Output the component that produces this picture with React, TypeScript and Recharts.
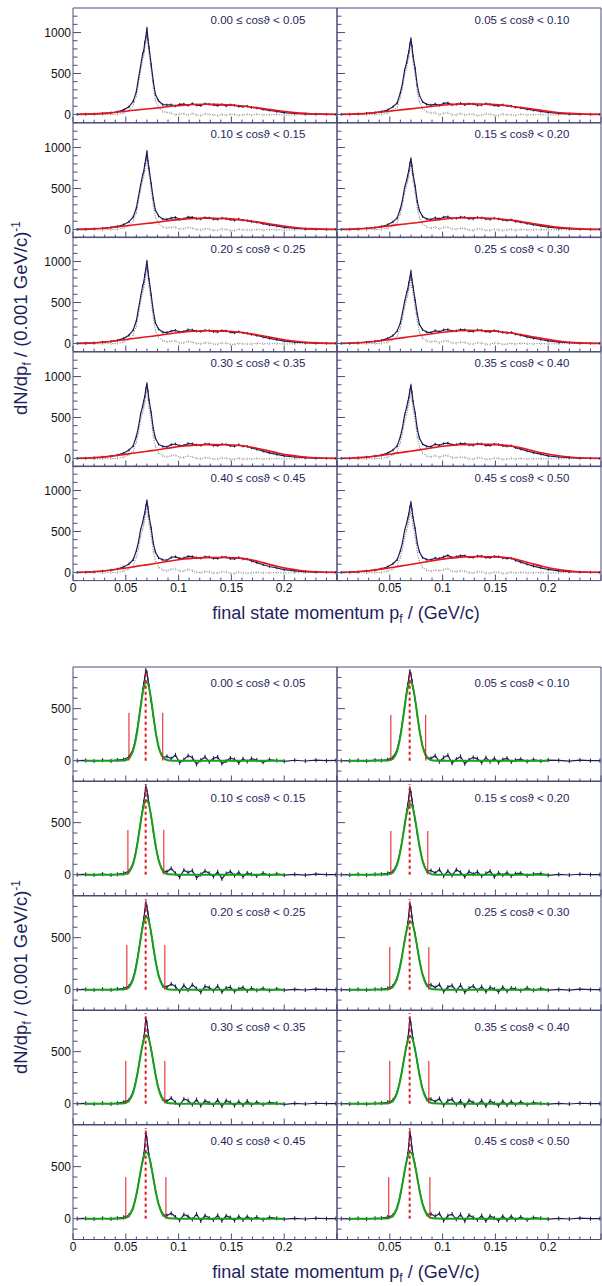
import React from "react";
import {
  ComposedChart,
  Line,
  XAxis,
  YAxis,
  ErrorBar,
  ReferenceArea,
  ReferenceLine,
} from "recharts";

const FONT = "'Liberation Sans', Arial, Helvetica, sans-serif";
const NAVY = "#1f1f5e";
const FRAME = "#4a4a78";
const DATA_C = "#1c1c54";
const GRAY_C = "#7a7a7a";
const GRAY_ERR_C = "#b4b4b4";
const RED_C = "#e8141a";
const GREEN_C = "#18a018";

const COS_LABELS = [
  "0.00 ≤ cosϑ < 0.05",
  "0.05 ≤ cosϑ < 0.10",
  "0.10 ≤ cosϑ < 0.15",
  "0.15 ≤ cosϑ < 0.20",
  "0.20 ≤ cosϑ < 0.25",
  "0.25 ≤ cosϑ < 0.30",
  "0.30 ≤ cosϑ < 0.35",
  "0.35 ≤ cosϑ < 0.40",
  "0.40 ≤ cosϑ < 0.45",
  "0.45 ≤ cosϑ < 0.50",
];

// momentum grid of the histogram points (GeV/c)
const GRID_X = [
  0.004, 0.012, 0.02, 0.028, 0.036, 0.042, 0.048, 0.053, 0.057, 0.06,
  0.062, 0.064, 0.066, 0.067, 0.068, 0.069, 0.07, 0.071, 0.072, 0.074,
  0.076, 0.078, 0.081, 0.085, 0.089, 0.093, 0.097, 0.101, 0.105, 0.109,
  0.113, 0.117, 0.121, 0.125, 0.129, 0.133, 0.137, 0.141, 0.145, 0.149,
  0.153, 0.157, 0.161, 0.165, 0.169, 0.174, 0.18, 0.186, 0.193, 0.2,
  0.21, 0.22, 0.23, 0.24, 0.249,
];
const BKG_X = [
  0.005, 0.015, 0.025, 0.035, 0.045, 0.055, 0.065, 0.075, 0.085, 0.095,
  0.105, 0.115, 0.125, 0.135, 0.145, 0.155, 0.165, 0.175, 0.185, 0.195,
  0.205, 0.215, 0.225, 0.235, 0.248,
];
const FIT_X = [
  0.011, 0.03, 0.046, 0.051, 0.054, 0.057, 0.059, 0.061, 0.063, 0.065, 0.067,
  0.069, 0.071, 0.073, 0.075, 0.077, 0.079, 0.081, 0.084, 0.087, 0.091, 0.1,
  0.15, 0.2,
];

const X_TICKS = [
  0, 0.01, 0.02, 0.03, 0.04, 0.05, 0.06, 0.07, 0.08, 0.09, 0.1, 0.11, 0.12,
  0.13, 0.14, 0.15, 0.16, 0.17, 0.18, 0.19, 0.2, 0.21, 0.22, 0.23, 0.24, 0.25,
];
const X_MAJOR = [0, 0.05, 0.1, 0.15, 0.2, 0.25];
const X_LABELS = [0, 0.05, 0.1, 0.15, 0.2];
const TOP_Y_TICKS = [-100, 0, 100, 200, 300, 400, 500, 600, 700, 800, 900, 1000, 1100, 1200];
const TOP_Y_LABELS = [0, 500, 1000];
const BOT_Y_TICKS = [-100, 0, 100, 200, 300, 400, 500, 600, 700, 800];
const BOT_Y_LABELS = [0, 500];
const TOP_DOMAIN: [number, number] = [-100, 1300];
const BOT_DOMAIN: [number, number] = [-200, 900];

// typical half-length of the statistical error bars
const TOP_ERR = 16;
const BOT_ERR = 20;

// upper figure: measured spectrum (navy)
const TOP_DATA = [
  [0, 3, 6, 12, 20, 32, 56, 92, 160, 279, 436, 589, 741, 777, 883, 945, 1056, 917, 818, 611, 408, 246, 166, 120, 116, 118, 104, 122, 126, 110, 132, 114, 108, 130, 124, 117, 108, 121, 104, 117, 112, 99, 94, 100, 84, 78, 62, 50, 36, 22, 12, 6, 3, 2, 1],
  [0, 2, 7, 13, 22, 34, 54, 92, 140, 265, 376, 541, 639, 709, 766, 860, 927, 834, 713, 562, 356, 235, 153, 123, 114, 126, 112, 134, 140, 118, 122, 136, 118, 132, 128, 112, 115, 130, 122, 110, 104, 116, 106, 100, 88, 80, 64, 52, 38, 24, 13, 7, 3, 2, 1],
  [0, 3, 8, 14, 24, 36, 58, 93, 153, 261, 400, 540, 670, 709, 796, 862, 953, 834, 743, 561, 377, 236, 165, 125, 122, 138, 146, 124, 130, 150, 146, 132, 128, 144, 140, 126, 124, 138, 132, 120, 112, 126, 112, 108, 96, 88, 70, 56, 42, 26, 14, 7, 4, 2, 1],
  [0, 2, 7, 14, 23, 35, 57, 92, 139, 252, 360, 509, 604, 663, 718, 804, 865, 778, 672, 529, 343, 231, 157, 128, 121, 142, 128, 150, 154, 134, 136, 150, 148, 132, 130, 146, 142, 128, 124, 136, 128, 116, 110, 116, 98, 90, 72, 58, 44, 28, 15, 8, 4, 2, 1],
  [0, 3, 8, 15, 25, 38, 62, 100, 163, 277, 422, 570, 704, 748, 837, 909, 1005, 882, 783, 595, 399, 253, 176, 137, 132, 150, 160, 138, 146, 166, 164, 150, 146, 160, 158, 144, 140, 156, 152, 138, 130, 142, 130, 124, 110, 98, 78, 62, 46, 28, 15, 8, 4, 2, 1],
  [0, 2, 8, 15, 26, 38, 61, 95, 151, 250, 376, 506, 622, 662, 739, 801, 885, 778, 693, 529, 361, 233, 168, 138, 133, 156, 142, 166, 170, 150, 154, 168, 166, 150, 148, 164, 160, 146, 142, 156, 148, 134, 128, 134, 114, 102, 80, 64, 48, 30, 16, 8, 4, 2, 1],
  [0, 3, 8, 16, 27, 40, 64, 102, 152, 270, 384, 540, 641, 702, 759, 850, 915, 824, 712, 564, 368, 250, 174, 146, 140, 168, 176, 154, 160, 182, 178, 164, 160, 176, 174, 158, 156, 172, 170, 154, 150, 166, 150, 146, 128, 112, 88, 68, 50, 32, 17, 9, 4, 2, 1],
  [0, 2, 8, 16, 27, 40, 65, 102, 152, 266, 378, 530, 627, 688, 744, 832, 896, 807, 698, 555, 363, 249, 175, 147, 143, 174, 160, 182, 186, 166, 168, 182, 180, 164, 162, 178, 176, 160, 158, 174, 170, 154, 150, 154, 132, 114, 90, 70, 52, 32, 17, 9, 4, 2, 1],
  [0, 3, 9, 17, 28, 42, 67, 104, 154, 266, 372, 520, 615, 675, 730, 813, 876, 790, 685, 545, 360, 250, 178, 153, 149, 182, 192, 168, 176, 196, 192, 178, 174, 190, 188, 172, 170, 186, 186, 168, 166, 182, 164, 162, 140, 120, 94, 72, 54, 34, 18, 9, 4, 2, 1],
  [0, 3, 9, 18, 29, 44, 69, 106, 155, 264, 368, 511, 604, 661, 715, 795, 857, 772, 672, 536, 357, 252, 182, 157, 154, 176, 170, 190, 208, 182, 190, 204, 202, 186, 184, 200, 198, 182, 180, 196, 192, 176, 170, 172, 148, 126, 100, 76, 56, 36, 19, 10, 5, 2, 1],
];

// upper figure: background-subtracted points (gray dotted)
const TOP_GRAY = [
  [0, 0, -2, -2, 0, 3, 20, 48, 110, 226, 380, 530, 680, 715, 820, 880, 990, 850, 750, 540, 335, 170, 86, 34, 24, 16, -6, 4, 10, -8, 12, -6, -14, 8, 2, -4, -14, 0, -12, 2, -2, -10, -8, 4, -8, 2, -6, -4, 0, -10, -5, -3, -1, 0, 0],
  [0, -1, -2, -3, 1, 3, 17, 46, 88, 210, 318, 480, 576, 645, 700, 792, 858, 764, 642, 488, 280, 156, 70, 34, 18, 20, -6, 16, 20, -4, -4, 12, -8, 4, 2, -14, -8, 8, 2, -10, -12, 4, -4, -6, -10, 1, -6, -3, -2, -8, -5, -3, -1, 0, 0],
  [0, -1, -3, -4, -1, 2, 18, 44, 98, 202, 338, 475, 602, 640, 726, 790, 880, 760, 668, 482, 296, 152, 76, 30, 20, 26, 28, 4, 8, 24, 16, 0, -6, 8, 6, -10, -10, 4, 0, -12, -16, 2, -6, -6, -8, 0, -6, -2, -2, -8, -4, -3, -1, 0, 0],
  [0, -2, -4, -3, -2, 1, 16, 42, 82, 192, 296, 442, 534, 592, 646, 730, 790, 702, 594, 448, 260, 144, 66, 30, 16, 28, 6, 26, 28, 4, 2, 14, 10, -8, -10, 6, 4, -10, -12, 2, -4, -12, -6, 2, -10, 0, -4, -4, -2, -6, -4, -2, -1, 0, 0],
  [0, -1, -4, -4, -2, 0, 18, 46, 102, 212, 354, 498, 630, 672, 760, 830, 924, 800, 700, 508, 310, 160, 78, 32, 20, 28, 30, 4, 6, 26, 16, 0, -6, 8, 6, -8, -10, 6, 4, -12, -12, 2, -6, -6, -8, 0, -4, -4, -2, -8, -4, -2, -1, 0, 0],
  [0, -2, -3, -4, -1, 0, 16, 40, 88, 184, 306, 432, 546, 584, 660, 720, 802, 694, 608, 440, 270, 138, 68, 30, 18, 30, 8, 30, 32, 6, 4, 16, 12, -6, -8, 8, 4, -10, -10, 4, 2, -12, -6, 2, -8, 0, -4, -4, -2, -6, -4, -2, -1, 0, 0],
  [0, -2, -5, -4, -2, 0, 17, 44, 86, 200, 310, 462, 560, 620, 676, 764, 828, 736, 622, 470, 272, 150, 68, 32, 18, 34, 38, 12, 12, 32, 18, 2, -4, 8, 6, -8, -8, 6, 4, -10, -12, 4, -8, -4, -8, 0, -6, -4, -2, -6, -4, -2, -1, 0, 0],
  [0, -2, -4, -4, -2, 0, 16, 42, 84, 194, 302, 450, 544, 604, 658, 744, 806, 716, 606, 458, 264, 146, 66, 30, 18, 36, 14, 34, 34, 10, 8, 18, 12, -6, -8, 8, 6, -10, -10, 4, 2, -12, -8, 2, -8, 0, -6, -4, -2, -6, -4, -2, -1, 0, 0],
  [0, -2, -5, -5, -3, -1, 16, 41, 82, 190, 292, 436, 528, 586, 640, 720, 782, 694, 588, 444, 256, 142, 64, 30, 18, 40, 42, 16, 16, 36, 22, 4, -2, 10, 8, -8, -8, 6, 6, -12, -12, 4, -8, -6, -8, 0, -6, -4, -2, -6, -4, -2, -1, 0, 0],
  [0, -2, -5, -5, -3, -1, 15, 40, 80, 184, 284, 422, 512, 568, 620, 698, 758, 672, 570, 430, 248, 138, 62, 28, 16, 30, 20, 34, 48, 14, 10, 20, 16, -4, -8, 8, 6, -10, -10, 4, 2, -12, -8, 2, -8, 0, -6, -4, -2, -6, -4, -2, -1, 0, 0],
];

// upper figure: background estimate (red)
const TOP_BKG = [
  [1, 4, 10, 19, 32, 47, 60, 72, 86, 102, 114, 121, 124, 122, 117, 108, 96, 80, 62, 44, 28, 16, 8, 4, 1],
  [1, 4, 10, 20, 33, 48, 62, 75, 90, 106, 118, 126, 130, 128, 123, 114, 100, 84, 65, 46, 30, 17, 9, 4, 1],
  [1, 4, 11, 21, 35, 51, 66, 80, 96, 113, 126, 134, 138, 137, 132, 123, 108, 90, 70, 50, 32, 18, 9, 4, 1],
  [1, 4, 11, 21, 35, 52, 67, 82, 99, 116, 130, 139, 143, 142, 137, 128, 113, 94, 73, 52, 33, 19, 10, 4, 1],
  [1, 4, 12, 23, 38, 56, 72, 88, 106, 124, 139, 149, 154, 153, 148, 139, 123, 103, 80, 57, 36, 20, 10, 4, 1],
  [1, 5, 12, 24, 39, 57, 74, 90, 109, 128, 143, 154, 159, 158, 153, 143, 127, 106, 82, 58, 37, 21, 10, 4, 1],
  [1, 5, 13, 25, 41, 60, 78, 95, 115, 135, 151, 162, 168, 168, 166, 160, 146, 122, 92, 64, 40, 22, 11, 5, 1],
  [1, 5, 13, 26, 42, 61, 80, 98, 118, 139, 155, 166, 172, 173, 171, 165, 151, 126, 95, 66, 41, 23, 11, 5, 1],
  [1, 5, 14, 27, 44, 64, 84, 103, 124, 146, 163, 175, 181, 183, 182, 178, 164, 136, 102, 70, 43, 24, 12, 5, 1],
  [1, 5, 14, 28, 46, 67, 88, 108, 130, 153, 171, 184, 191, 193, 192, 188, 173, 143, 107, 73, 45, 25, 12, 5, 1],
];

// lower figure: background-subtracted spectrum (navy)
const BOT_DATA = [
  [0, 2, -3, 4, -2, 6, 12, 35, 110, 250, 380, 530, 680, 740, 800, 870, 850, 780, 720, 580, 430, 290, 130, 30, 42, 18, 55, -20, 10, 48, 30, -35, 5, 38, -12, 22, 35, -28, -5, 26, 12, -22, 18, -8, 20, 6, -15, 10, 2, -6, 4, -3, 5, 0, 2],
  [0, -2, 3, -4, 5, 2, 10, 30, 105, 245, 375, 520, 670, 730, 790, 860, 830, 770, 700, 590, 440, 300, 140, 35, 20, 48, -10, 30, 52, -25, 15, 40, -30, 8, 32, 18, -20, 30, -10, 22, -18, 10, 24, -12, 6, 14, -8, 10, -4, 6, 3, -4, 6, 1, 0],
  [0, 3, -2, 5, -3, 4, 14, 32, 110, 245, 370, 505, 640, 700, 770, 850, 810, 750, 680, 560, 420, 290, 140, 38, 28, 60, 12, -25, 45, 20, 40, -30, 2, 36, 14, -18, 28, -40, 10, 30, -8, 22, -20, 16, 4, -12, 15, -6, 8, -5, 3, -4, 5, 1, 0],
  [0, -2, 4, -3, 3, 5, 12, 30, 105, 232, 350, 480, 610, 670, 740, 830, 790, 720, 650, 530, 400, 280, 135, 36, 40, 15, 50, -15, 36, -8, 48, 22, -20, 30, 5, 28, -15, 12, 34, -22, 18, -5, 20, -14, 10, 14, -10, 6, 10, -6, 2, -3, 4, 0, 1],
  [0, 2, -3, 4, -2, 6, 12, 32, 108, 240, 360, 492, 625, 685, 760, 840, 800, 735, 665, 545, 410, 286, 138, 37, 25, 55, 30, -18, 42, -4, 48, 10, -26, 32, 20, -10, 36, -22, 16, 24, -18, 8, 22, -12, 14, -6, 12, -8, 8, -4, 3, -3, 5, 0, 1],
  [0, -2, 3, -3, 4, 5, 14, 35, 115, 240, 350, 470, 580, 640, 720, 830, 790, 700, 630, 530, 410, 290, 150, 45, 46, 20, 50, -20, 25, 40, -12, 45, -25, 14, 35, -8, 30, -20, 22, 6, -22, 24, -15, 16, 8, -10, 18, -6, 10, -5, 2, -4, 5, 0, 1],
  [0, 3, -2, 4, -3, 5, 15, 34, 112, 238, 348, 468, 578, 635, 710, 820, 780, 695, 625, 525, 408, 288, 148, 44, 24, 55, 10, -15, 45, 30, -10, 40, -20, 28, 8, -12, 35, -25, 30, 12, -18, 20, -15, 25, -10, 14, -8, 12, 4, -6, 3, -3, 4, 0, 1],
  [0, -2, 3, -4, 4, 6, 14, 33, 110, 235, 344, 462, 570, 625, 700, 820, 770, 688, 618, 518, 402, 284, 145, 43, 44, 18, 50, -18, 30, 42, -8, 26, -24, 32, 10, -10, 30, -22, 26, 4, -20, 24, -14, 20, -8, 16, -10, 10, 2, -5, 2, -3, 4, 0, 1],
  [0, 2, -3, 4, -2, 5, 14, 33, 108, 232, 338, 455, 562, 615, 700, 830, 770, 680, 610, 510, 396, 280, 142, 42, 30, 52, 16, -16, 40, 22, -8, 44, -22, 30, 6, -12, 32, -20, 28, 10, -18, 22, -12, 20, -6, 15, -10, 12, 3, -5, 3, -3, 4, 0, 1],
  [0, -2, 3, -3, 4, 6, 15, 32, 108, 232, 340, 456, 562, 618, 710, 840, 775, 682, 612, 512, 398, 282, 144, 42, 46, 22, 50, -20, 28, 44, -6, 40, -24, 34, 12, -12, 30, -22, 26, 6, -20, 24, -14, 22, -10, 16, -12, 10, 4, -4, 2, -3, 5, 0, 1],
];

// lower figure: peak fit (green)
const BOT_FIT = [
  [0, 0, 1, 9, 33, 100, 181, 297, 439, 584, 701, 757, 738, 648, 513, 366, 235, 136, 49, 14, 2, 0, 0, 0],
  [0, 0, 1, 8, 31, 97, 178, 294, 436, 582, 700, 758, 740, 651, 516, 369, 238, 138, 50, 14, 2, 0, 0, 0],
  [0, 0, 1, 11, 38, 107, 187, 298, 430, 562, 667, 718, 701, 620, 498, 362, 239, 143, 55, 17, 3, 0, 0, 0],
  [0, 0, 1, 10, 36, 101, 177, 282, 406, 531, 630, 678, 662, 585, 470, 342, 226, 135, 52, 16, 2, 0, 0, 0],
  [0, 0, 1, 11, 37, 104, 182, 290, 418, 547, 649, 698, 681, 603, 484, 352, 232, 139, 54, 17, 2, 0, 0, 0],
  [0, 0, 1, 13, 42, 110, 186, 288, 406, 523, 614, 658, 643, 573, 466, 346, 234, 145, 59, 20, 3, 0, 0, 0],
  [0, 0, 1, 13, 42, 109, 185, 287, 405, 522, 613, 657, 642, 572, 465, 345, 233, 144, 59, 20, 3, 0, 0, 0],
  [0, 0, 1, 13, 41, 108, 183, 284, 400, 515, 605, 648, 633, 565, 459, 341, 231, 142, 58, 19, 3, 0, 0, 0],
  [0, 0, 1, 13, 41, 106, 181, 279, 394, 507, 596, 638, 624, 556, 452, 336, 227, 140, 57, 19, 3, 0, 0, 0],
  [0, 0, 1, 12, 40, 106, 180, 280, 395, 508, 597, 639, 625, 557, 453, 337, 228, 141, 58, 19, 3, 0, 0, 0],
];

const BOT_LO_CUT = [0.053, 0.051, 0.052, 0.051, 0.051, 0.05, 0.05, 0.05, 0.05, 0.049];
const BOT_HI_CUT = [0.085, 0.084, 0.086, 0.086, 0.087, 0.087, 0.087, 0.087, 0.088, 0.088];
const BOT_CUT_H = [460, 440, 430, 420, 430, 410, 410, 410, 400, 400];
const BOT_PEAK_X = 0.0688;
const BOT_PEAK_TOP = 870;

// layout
const PLOT_W = 264;
const COL_X = [73, 337];
const TOP_Y0 = 8;
const TOP_ROW_H = 114.6;
const BOT_Y0 = 666.8;
const BOT_ROW_H = 114.5;

const pts = (xs: number[], ys: number[], err = 0) =>
  xs.map((x, i) => ({ x, y: ys[i], e: err }));
const near = (list: number[], v: number) => list.some((l) => Math.abs(l - v) < 1e-6);

const makeXTick = (showLabels: boolean, showZero: boolean) => (p: any) => {
  const v = p.payload.value;
  const major = near(X_MAJOR, v);
  const len = major ? 6 : 3;
  const label = showLabels && near(X_LABELS, v) && (showZero || v !== 0);
  return (
    <g>
      <line x1={p.x} x2={p.x} y1={p.y} y2={p.y - len} stroke={FRAME} strokeWidth={1} />
      {label && (
        <text x={p.x} y={p.y + 11.5} textAnchor="middle" fontSize={12} fill="#111" fontFamily={FONT}>
          {String(v)}
        </text>
      )}
    </g>
  );
};

const makeYTick = (showLabels: boolean, labels: number[]) => (p: any) => {
  const v = p.payload.value;
  const major = near(labels, v);
  const len = major ? 8 : 4.5;
  return (
    <g>
      <line x1={p.x} x2={p.x + len} y1={p.y} y2={p.y} stroke={FRAME} strokeWidth={1} />
      {showLabels && major && (
        <text x={p.x - 2} y={p.y} dy="0.36em" textAnchor="end" fontSize={12} fill="#111" fontFamily={FONT}>
          {v}
        </text>
      )}
    </g>
  );
};

type PanelProps = {
  kind: "top" | "bot";
  idx: number;
};

function Panel({ kind, idx }: PanelProps) {
  const row = Math.floor(idx / 2);
  const col = idx % 2;
  const isTop = kind === "top";
  const rowH = isTop ? TOP_ROW_H : BOT_ROW_H;
  const top = (isTop ? TOP_Y0 : BOT_Y0) + row * rowH;
  const left = COL_X[col];
  const domain = isTop ? TOP_DOMAIN : BOT_DOMAIN;
  const lastRow = row === 4;

  return (
    <div style={{ position: "absolute", left: left - 1, top }}>
      <ComposedChart width={PLOT_W + 1} height={rowH + 1} margin={{ top: 0, right: 0, bottom: 0, left: 0 }}>
        <XAxis
          dataKey="x"
          type="number"
          domain={[0, 0.25]}
          ticks={X_TICKS}
          interval={0}
          height={1}
          tickSize={0}
          tickMargin={0}
          axisLine={false}
          tickLine={false}
          allowDataOverflow
          tick={makeXTick(lastRow, col === 0)}
        />
        <YAxis
          type="number"
          domain={domain}
          ticks={isTop ? TOP_Y_TICKS : BOT_Y_TICKS}
          interval={0}
          width={1}
          tickSize={0}
          tickMargin={0}
          axisLine={false}
          tickLine={false}
          allowDataOverflow
          tick={makeYTick(col === 0, isTop ? TOP_Y_LABELS : BOT_Y_LABELS)}
        />
        {isTop && (
          <Line
            data={pts(GRID_X, TOP_GRAY[idx], TOP_ERR)}
            dataKey="y"
            type="linear"
            stroke={GRAY_C}
            strokeWidth={1}
            strokeDasharray="1 1.5"
            dot={false}
            isAnimationActive={false}
          >
            <ErrorBar dataKey="e" direction="y" width={0} stroke={GRAY_ERR_C} strokeWidth={1} strokeDasharray="1 1" />
          </Line>
        )}
        <Line
          data={pts(GRID_X, isTop ? TOP_DATA[idx] : BOT_DATA[idx], isTop ? TOP_ERR : BOT_ERR)}
          dataKey="y"
          type="linear"
          stroke={DATA_C}
          strokeWidth={1.2}
          dot={false}
          isAnimationActive={false}
        >
          <ErrorBar dataKey="e" direction="y" width={0} stroke={DATA_C} strokeWidth={1} />
        </Line>
        {isTop && (
          <Line
            data={pts(BKG_X, TOP_BKG[idx])}
            dataKey="y"
            type="monotone"
            stroke={RED_C}
            strokeWidth={1.6}
            dot={false}
            isAnimationActive={false}
          />
        )}
        {!isTop && (
          <Line
            data={pts(FIT_X, BOT_FIT[idx])}
            dataKey="y"
            type="monotone"
            stroke={GREEN_C}
            strokeWidth={2}
            dot={false}
            isAnimationActive={false}
          />
        )}
        {!isTop && (
          <ReferenceLine
            segment={[
              { x: BOT_LO_CUT[idx], y: 0 },
              { x: BOT_LO_CUT[idx], y: BOT_CUT_H[idx] },
            ]}
            stroke={RED_C}
            strokeWidth={1}
          />
        )}
        {!isTop && (
          <ReferenceLine
            segment={[
              { x: BOT_HI_CUT[idx], y: 0 },
              { x: BOT_HI_CUT[idx], y: BOT_CUT_H[idx] },
            ]}
            stroke={RED_C}
            strokeWidth={1}
          />
        )}
        {!isTop && (
          <ReferenceLine
            segment={[
              { x: BOT_PEAK_X, y: 0 },
              { x: BOT_PEAK_X, y: BOT_PEAK_TOP },
            ]}
            stroke={RED_C}
            strokeWidth={2}
            strokeDasharray="3 3"
          />
        )}
        <ReferenceArea
          x1={0}
          x2={0.25}
          y1={domain[0]}
          y2={domain[1]}
          fill="none"
          stroke={FRAME}
          strokeWidth={1}
          ifOverflow="visible"
        />
      </ComposedChart>
      <div
        style={{
          position: "absolute",
          left: 186,
          top: isTop ? 12.7 : 17.3,
          transform: "translate(-50%, -50%)",
          whiteSpace: "nowrap",
          fontFamily: FONT,
          fontSize: 11.5,
          color: NAVY,
          lineHeight: 1,
        }}
      >
        {COS_LABELS[idx]}
      </div>
    </div>
  );
}

function Titles() {
  const yTitle = (cy: number) => (
    <text
      transform={`translate(27, ${cy}) rotate(-90)`}
      textAnchor="middle"
      fontSize={18.5}
      fill={NAVY}
      fontFamily={FONT}
    >
      dN/dp
      <tspan fontSize={12} dy={4}>f</tspan>
      <tspan dy={-4}> / (0.001 GeV/c)</tspan>
      <tspan fontSize={12} dy={-7}>-1</tspan>
    </text>
  );
  const xTitle = (by: number) => (
    <text x={346} y={by} textAnchor="middle" fontSize={18} fill={NAVY} fontFamily={FONT}>
      final state momentum p
      <tspan fontSize={12} dy={4}>f</tspan>
      <tspan dy={-4}> / (GeV/c)</tspan>
    </text>
  );
  return (
    <svg width={602} height={1286} style={{ position: "absolute", left: 0, top: 0, pointerEvents: "none" }}>
      {yTitle(318)}
      {yTitle(977)}
      {xTitle(619)}
      {xTitle(1278)}
    </svg>
  );
}

const PANEL_IDS = [0, 1, 2, 3, 4, 5, 6, 7, 8, 9];

export default function App() {
  return (
    <div style={{ position: "absolute", left: 0, top: 0, width: 602, height: 1286, background: "#fff" }}>
      <style>{`.recharts-surface{overflow:visible}`}</style>
      {PANEL_IDS.map((i) => (
        <Panel key={`t${i}`} kind="top" idx={i} />
      ))}
      {PANEL_IDS.map((i) => (
        <Panel key={`b${i}`} kind="bot" idx={i} />
      ))}
      <Titles />
    </div>
  );
}
